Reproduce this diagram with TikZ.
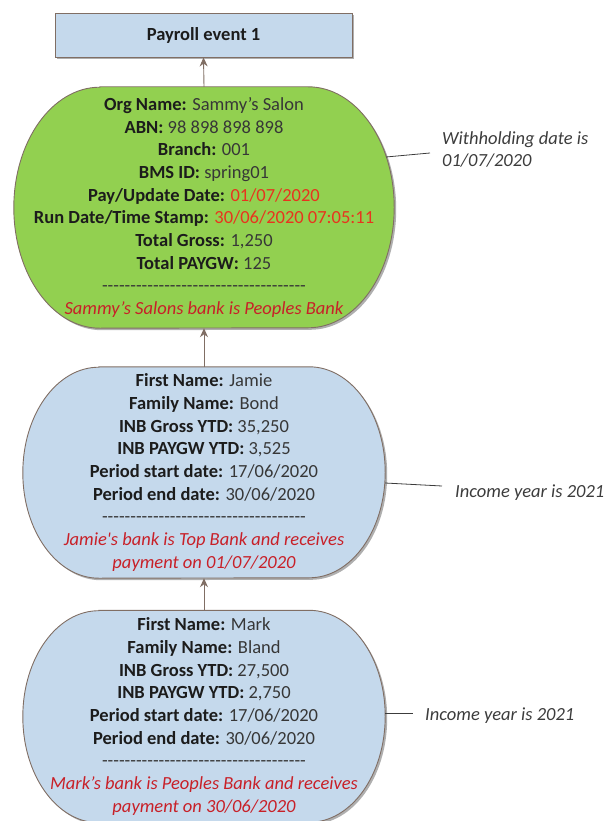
\documentclass[tikz,border=0pt]{standalone}
\usepackage{fontspec}
\setmainfont{Carlito}
\usetikzlibrary{arrows.meta,backgrounds,shadows}

\definecolor{boxblue}{RGB}{197,217,236}
\definecolor{leafgreen}{RGB}{146,208,80}
\definecolor{edgebrown}{RGB}{128,110,100}
\definecolor{labelink}{RGB}{28,28,28}
\definecolor{valueink}{RGB}{55,55,55}
\definecolor{datered}{RGB}{232,52,30}
\definecolor{notered}{RGB}{200,32,40}
\definecolor{noteink}{RGB}{60,60,60}
\definecolor{shadowgray}{RGB}{175,175,175}

% bold field name
\newcommand\lbl[1]{\textbf{\textcolor{labelink}{#1}}}
% separator row of plain hyphens (kerns keep them from joining into dashes)
\newcommand\dashrow{\foreach \k in {1,...,36}{-\kern0pt}}
% capsule outline around a node: #1 node, #2 end x radius, #3 half height, #4 fill
\newcommand\capsule[4]{%
  \path[fill=shadowgray, transform canvas={xshift=2pt,yshift=-2pt}]
    ([xshift=#2]#1.north west) -- ([xshift=-#2]#1.north east)
    arc[start angle=90, end angle=-90, x radius=#2, y radius=#3]
    -- ([xshift=#2]#1.south west)
    arc[start angle=270, end angle=90, x radius=#2, y radius=#3] -- cycle;
  \draw[edgebrown, line width=0.9pt, fill=#4]
    ([xshift=#2]#1.north west) -- ([xshift=-#2]#1.north east)
    arc[start angle=90, end angle=-90, x radius=#2, y radius=#3]
    -- ([xshift=#2]#1.south west)
    arc[start angle=270, end angle=90, x radius=#2, y radius=#3] -- cycle;
}

\tikzset{
  bodyfont/.style={font=\fontsize{18.5pt}{22.7pt}\selectfont},
  card/.style={bodyfont, align=center, inner sep=0pt, text=valueink},
  note/.style={font=\fontsize{18.5pt}{22.7pt}\selectfont\itshape,
    align=left, anchor=west, inner sep=0pt, text=noteink},
  arr/.style={edgebrown, line width=0.9pt, -{Stealth[length=9pt,width=8pt]}},
  noteline/.style={noteink, line width=0.8pt},
}

\begin{document}
\begin{tikzpicture}[x=1pt,y=-1pt]
\useasboundingbox (0,0) rectangle (607,821);

% header box
\node[draw=edgebrown, line width=0.9pt, fill=boxblue,
      minimum width=297pt, minimum height=44pt,
      drop shadow={shadow xshift=2pt, shadow yshift=-2pt, fill=shadowgray, opacity=1},
      bodyfont, text=labelink] (event) at (203.5,35) {\textbf{Payroll event 1}};

% employer record
\node[card, minimum width=380pt, minimum height=241pt] (org) at (204,207.5) {%
  \lbl{Org Name:} Sammy’s Salon\\
  \lbl{ABN:} 98 898 898 898\\
  \lbl{Branch:} 001\\
  \lbl{BMS ID:} spring01\\
  \lbl{Pay/Update Date:} \textcolor{datered}{01/07/2020}\\
  \lbl{Run Date/Time Stamp:} \textcolor{datered}{30/06/2020 07:05:11}\\
  \lbl{Total Gross:} 1,250\\
  \lbl{Total PAYGW:} 125\\
  \dashrow\\
  \textcolor{notered}{\itshape Sammy’s Salons bank is Peoples Bank}};

% first employee
\node[card, minimum width=362pt, minimum height=211pt] (jamie) at (204,472.5) {%
  \lbl{First Name:} Jamie\\
  \lbl{Family Name:} Bond\\
  \lbl{INB Gross YTD:} 35,250\\
  \lbl{INB PAYGW YTD:} 3,525\\
  \lbl{Period start date:} 17/06/2020\\
  \lbl{Period end date:} 30/06/2020\\
  \dashrow\\
  \textcolor{notered}{\itshape Jamie\textquotesingle s bank is Top Bank and receives}\\
  \textcolor{notered}{\itshape payment on 01/07/2020}};

% second employee
\node[card, minimum width=362pt, minimum height=212pt] (mark) at (204,716.5) {%
  \lbl{First Name:} Mark\\
  \lbl{Family Name:} Bland\\
  \lbl{INB Gross YTD:} 27,500\\
  \lbl{INB PAYGW YTD:} 2,750\\
  \lbl{Period start date:} 17/06/2020\\
  \lbl{Period end date:} 30/06/2020\\
  \dashrow\\
  \textcolor{notered}{\itshape Mark’s bank is Peoples Bank and receives}\\
  \textcolor{notered}{\itshape payment on 30/06/2020}};

\begin{scope}[on background layer]
  \capsule{org}{86pt}{120.5pt}{leafgreen}
  \capsule{jamie}{76pt}{105.5pt}{boxblue}
  \capsule{mark}{76pt}{106pt}{boxblue}
\end{scope}

% flow arrows
\draw[arr] (org.north) -- (event.south);
\draw[arr] (jamie.north) -- (org.south);
\draw[arr] (mark.north) -- (jamie.south);

% side notes
\node[note] (n1) at (442,149.5) {Withholding date is\\01/07/2020};
\node[note] (n2) at (455,493) {Income year is 2021};
\node[note] (n3) at (425,716) {Income year is 2021};

\coordinate (e1) at (386,157);
\coordinate (e2) at (385,483);
\coordinate (e3) at (385,713);
\draw[noteline] (e1) -- ([xshift=-12pt,yshift=-3.5pt]n1.west);
\draw[noteline] (e2) -- ([xshift=-13pt,yshift=7pt]n2.west);
\draw[noteline] (e3) -- ([xshift=-12pt,yshift=3pt]n3.west);
\end{tikzpicture}
\end{document}
